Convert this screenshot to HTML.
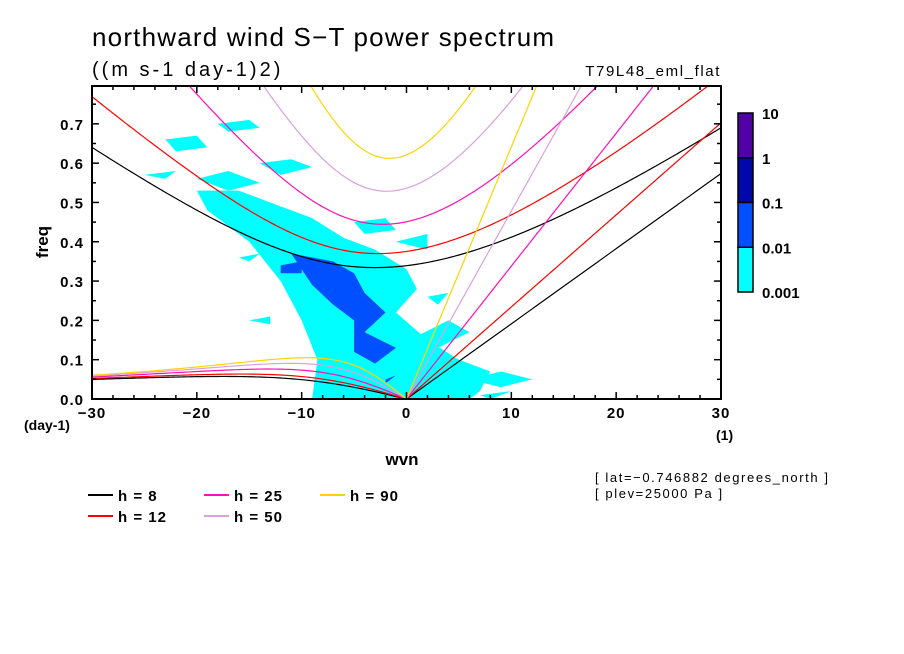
<!DOCTYPE html>
<html><head><meta charset="utf-8"><style>
body{margin:0;background:#fff;}
svg{display:block;font-family:"Liberation Sans",sans-serif;}
</style></head><body>
<svg id="chart" width="904" height="654" viewBox="0 0 904 654">
<rect width="904" height="654" fill="#fff"/>
<text x="92" y="46" font-size="26" letter-spacing="1.2">northward wind S−T power spectrum</text>
<text x="92" y="76" font-size="20" letter-spacing="3">((m s-1 day-1)2)</text>
<text x="721" y="76" font-size="15" letter-spacing="1.6" text-anchor="end">T79L48_eml_flat</text>
<defs><clipPath id="pc"><rect x="92" y="86" width="629" height="313"/></clipPath></defs>
<g id="shade" clip-path="url(#pc)"></g>
<g id="curves" clip-path="url(#pc)"></g>
<rect x="92" y="86" width="629" height="313" fill="none" stroke="#000" stroke-width="2"/>
<g id="axes"></g>
<text x="24" y="430" font-size="14" font-weight="bold">(day-1)</text>
<text x="716" y="440" font-size="14" font-weight="bold">(1)</text>
<text x="402" y="465" font-size="17" font-weight="bold" text-anchor="middle">wvn</text>
<text transform="translate(48,242) rotate(-90)" font-size="17" font-weight="bold" text-anchor="middle">freq</text>
<g id="cbar"></g>
<g id="legend"></g>
<text x="595" y="482" font-size="13" letter-spacing="1.6">[ lat=−0.746882 degrees_north ]</text>
<text x="595" y="498" font-size="13" letter-spacing="1.6">[ plev=25000 Pa ]</text>
</svg>
<script>
const heights=[8,12,25,50,90];
const colors=["#000000","#ff0000","#ff10b8","#dca0dc","#ffd400"];
const xTicks=[-30,-20,-10,0,10,20,30];
const yTicks=[0,0.1,0.2,0.3,0.4,0.5,0.6,0.7];
const cbarLevels=["10","1","0.1","0.01","0.001"];
const cbarColors=["#5200a8","#0008a8","#0050ff","#00ffff"];
const cyanRegions=[
 [[-9,0],[-8.5,0.1],[-10,0.2],[-12,0.3],[-15,0.4],[-19,0.48],[-20,0.53],[-16,0.53],[-13,0.5],[-9,0.46],[-6,0.41],[-3,0.38],[0,0.33],[1,0.28],[-1,0.22],[2,0.15],[5,0.1],[8,0.07],[7,0.02],[6,0]],
 [[-20,0.56],[-17,0.58],[-14,0.55],[-17,0.53]],
 [[-14,0.6],[-11,0.61],[-9,0.59],[-12,0.57]],
 [[-23,0.66],[-20,0.67],[-19,0.64],[-22,0.63]],
 [[-18,0.7],[-15,0.71],[-14,0.69],[-17,0.68]],
 [[-25,0.57],[-22,0.58],[-23,0.56]],
 [[-5,0.45],[-2,0.46],[-1,0.43],[-4,0.42]],
 [[-1,0.4],[2,0.42],[2,0.38]],
 [[2,0.26],[4,0.27],[3,0.24]],
 [[-15,0.2],[-13,0.21],[-13,0.19]],
 [[-16,0.36],[-14,0.37],[-15,0.35]],
 [[1,0.16],[4,0.2],[6,0.17],[3,0.13]],
 [[6,0.05],[9,0.07],[12,0.05],[9,0.03]],
 [[7,0.01],[10,0.02],[8,0]]
];
const blueRegions=[
 [[-11,0.37],[-7,0.35],[-5,0.32],[-4,0.27],[-2,0.22],[-4,0.17],[-1,0.13],[-3,0.09],[-5,0.12],[-5,0.2],[-7,0.24],[-9,0.29],[-10,0.33]],
 [[-12,0.34],[-10,0.35],[-10,0.32],[-12,0.32]],
 [[-2,0.05],[-1,0.06],[-2,0.04]]
];
const NS="http://www.w3.org/2000/svg";
const X0=92,X1=721,Y0=399,YT=86,FMAX=(399-86)/393.1;
function sx(s){return X0+(s+30)/60*(X1-X0);}
function sy(f){return Y0-f/FMAX*(Y0-YT);}
function mk(tag,attrs,parent){const e=document.createElementNS(NS,tag);for(const k in attrs)e.setAttribute(k,attrs[k]);parent.appendChild(e);return e;}
const shade=document.getElementById('shade');
cyanRegions.forEach((r,i)=>{const p=mk('polygon',{points:r.map(q=>sx(q[0])+','+sy(q[1])).join(' '),fill:'#00ffff'},shade);

});
blueRegions.forEach((r,i)=>{const p=mk('polygon',{points:r.map(q=>sx(q[0])+','+sy(q[1])).join(' '),fill:'#0050ff'},shade);

});
const a=6.371e6,Om=7.292e-5,g=9.81,beta=2*Om/a,conv=86400/(2*Math.PI);
function roots(k,c){const A=c*c*k*k+3*beta*c,B=beta*k*c*c;const r=2*Math.sqrt(A/3);let arg=(3*B/(2*A))*Math.sqrt(3/A);arg=Math.max(-1,Math.min(1,arg));const t=Math.acos(arg)/3;return [0,1,2].map(m=>r*Math.cos(t-2*Math.PI*m/3)).sort((x,y)=>x-y);}
const curves=document.getElementById('curves');
heights.forEach((h,i)=>{
 const c=Math.sqrt(g*h);let ig=[],ro=[],kv=[];
 for(let s=-30;s<=30.001;s+=0.25){const k=s/a;const rt=roots(k,c);
  ig.push(sx(s)+','+sy(rt[2]*conv));
  if(s<=0){const pos=rt.filter(v=>v>=-1e-12);const m=Math.min(...pos.map(Math.abs));ro.push(sx(s)+','+sy(m*conv));}
  if(s>=0)kv.push(sx(s)+','+sy(c*k*conv));}
 [[ig,'ig-curve'],[ro,'rossby-curve'],[kv,'kelvin-line']].forEach(([pts,nm])=>{
  const p=mk('polyline',{points:pts.join(' '),fill:'none',stroke:colors[i],'stroke-width':1.2},curves);
  
  });
});
const ax=document.getElementById('axes');
for(let s=-30;s<=30;s+=2){const maj=(s%10===0);const L=maj?7:4;const x=sx(s);
 mk('line',{x1:x,y1:Y0,x2:x,y2:Y0-L,stroke:'#000','stroke-width':1.5},ax);
 mk('line',{x1:x,y1:YT,x2:x,y2:YT+L,stroke:'#000','stroke-width':1.5},ax);}
xTicks.forEach(v=>{const t=mk('text',{x:sx(v),y:418,'font-size':15,'font-weight':'bold','text-anchor':'middle','letter-spacing':1},ax);t.textContent=v<0?'−'+(-v):String(v);

});
for(let j=0;j<=15;j++){const f=j*0.05;const maj=(j%2===0);const L=maj?7:4;const y=sy(f);if(y<YT)continue;
 mk('line',{x1:X0,y1:y,x2:X0+L,y2:y,stroke:'#000','stroke-width':1.5},ax);
 mk('line',{x1:X1,y1:y,x2:X1-L,y2:y,stroke:'#000','stroke-width':1.5},ax);}
yTicks.forEach(v=>{const t=mk('text',{x:84,y:sy(v)+6,'font-size':15,'font-weight':'bold','text-anchor':'end','letter-spacing':1},ax);t.textContent=v.toFixed(1);

});
const cb=document.getElementById('cbar');const cx=738,cw=15,ctop=113,seg=(292-113)/4;
cbarColors.forEach((col,i)=>{const r=mk('rect',{x:cx,y:ctop+i*seg,width:cw,height:seg,fill:col,stroke:'#000','stroke-width':1.5},cb);

});
cbarLevels.forEach((l,i)=>{const t=mk('text',{x:762,y:ctop+i*seg+6,'font-size':15,'font-weight':'bold'},cb);t.textContent=l;

});
const lg=document.getElementById('legend');
const lpos=[[88,495],[88,516],[204,495],[204,516],[320,495]];
heights.forEach((h,i)=>{const [x,y]=lpos[i];
 const ln=mk('line',{x1:x,y1:y,x2:x+25,y2:y,stroke:colors[i],'stroke-width':2},lg);
 
 
 const t=mk('text',{x:x+30,y:y+6,'font-size':15,'font-weight':'bold','xml:space':'preserve','letter-spacing':1},lg);
 t.textContent='h = '+(h<10?' ':'')+h;
 
 });
</script>
</body></html>
